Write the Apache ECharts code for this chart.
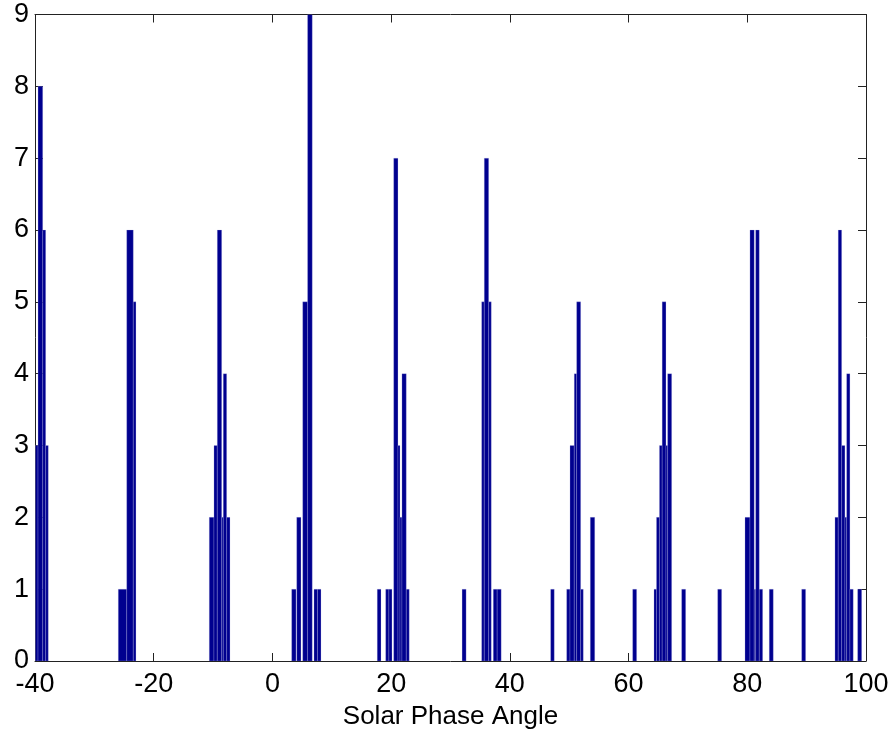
<!DOCTYPE html>
<html><head><meta charset="utf-8">
<script src="https://cdn.jsdelivr.net/npm/echarts@6/dist/echarts.min.js"></script>
<style>html,body{margin:0;padding:0;background:#fff}#c{width:893px;height:730px}</style>
</head><body><div id="c"></div>
<script>
// Histogram bins: left edge, right edge (degrees) and count
const binLeft  = [-39.92,-39.49,-38.70,-38.20, -25.97,-24.55,-23.44,
  -10.64,-9.85,-9.29,-8.55,-8.28,-7.71,
  3.24,4.09,5.10,5.92,7.00,7.59,
  17.66,19.08,19.62,20.43,21.15,21.49,21.82,22.55, 31.95,
  35.25,35.69,36.43,37.21,37.86, 46.87,
  49.57,50.13,50.85,51.25,51.93, 53.55, 60.69,
  64.28,64.70,65.20,65.66,66.30,66.58, 68.94, 75.01,
  79.61,80.45,81.17,81.41,82.02, 83.70, 89.16,
  94.77,95.32,95.90,96.45,96.74,97.29, 98.59];
const binRight = [-39.49,-38.70,-38.20,-37.76, -24.55,-23.44,-22.99,
  -9.85,-9.29,-8.55,-8.28,-7.71,-7.15,
  3.97,4.81,5.92,6.71,7.59,8.18,
  18.29,19.62,20.14,21.15,21.49,21.82,22.55,23.05, 32.63,
  35.69,36.43,36.87,37.86,38.54, 47.48,
  50.13,50.85,51.25,51.93,52.37, 54.30, 61.36,
  64.70,65.20,65.66,66.30,66.58,67.26, 69.62, 75.68,
  80.45,81.17,81.41,82.02,82.59, 84.38, 89.83,
  95.32,95.90,96.45,96.74,97.29,97.85, 99.27];
const counts   = [3,8,6,3, 1,6,5,
  2,3,6,2,4,2,
  1,2,5,9,1,1,
  1,1,1,7,3,2,4,1, 1,
  5,7,5,1,1, 1,
  1,3,4,5,1, 2, 1,
  1,2,3,5,3,4, 1, 1,
  2,6,1,6,1, 1, 1,
  2,6,3,2,4,1, 1];
const xTicks = [-40,-20,0,20,40,60,80,100];
const yTicks = [0,1,2,3,4,5,6,7,8,9];
const xTitle = 'Solar Phase Angle';

const data = binLeft.map((l,i)=>[l, binRight[i], counts[i]]);
const font = '"Liberation Sans",Arial,sans-serif';
const chart = echarts.init(document.getElementById('c'), null, {renderer:'canvas'});
const axisCommon = {
  axisLine:{show:true, onZero:false, lineStyle:{color:'#222', width:1}},
  axisTick:{show:true, inside:true, length:8, lineStyle:{color:'#222'}},
  splitLine:{show:false}
};
chart.setOption({
  animation:false,
  backgroundColor:'#fff',
  grid:{left:35, right:27, top:14.5, bottom:69, containLabel:false, outerBoundsMode:'none'},
  xAxis:[
    Object.assign({type:'value', min:xTicks[0], max:xTicks[xTicks.length-1], interval:20, position:'bottom',
      axisLabel:{color:'#000', fontSize:27, fontFamily:font, margin:10},
      name:xTitle, nameLocation:'middle', nameGap:43,
      nameTextStyle:{color:'#000', fontSize:26, fontFamily:font}}, axisCommon),
    Object.assign({type:'value', min:xTicks[0], max:xTicks[xTicks.length-1], interval:20, position:'top',
      axisLabel:{show:false}}, axisCommon)
  ],
  yAxis:[
    Object.assign({type:'value', min:yTicks[0], max:yTicks[yTicks.length-1], interval:1, position:'left',
      axisLabel:{color:'#000', fontSize:27, fontFamily:font, margin:6}}, axisCommon),
    Object.assign({type:'value', min:yTicks[0], max:yTicks[yTicks.length-1], interval:1, position:'right',
      axisLabel:{show:false}}, axisCommon)
  ],
  series:[{
    type:'custom',
    xAxisIndex:0, yAxisIndex:0,
    encode:{x:[0,1], y:2},
    data:data,
    clip:true,
    renderItem:function(params, api){
      const p0 = api.coord([api.value(0), api.value(2)]);
      const p1 = api.coord([api.value(1), 0]);
      return {type:'rect',
        shape:{x:p0[0], y:p0[1], width:p1[0]-p0[0], height:p1[1]-p0[1]},
        style:{fill:'#00008f', stroke:'rgba(190,190,235,0.7)', lineWidth:0.35}};
    }
  }]
});
</script></body></html>
